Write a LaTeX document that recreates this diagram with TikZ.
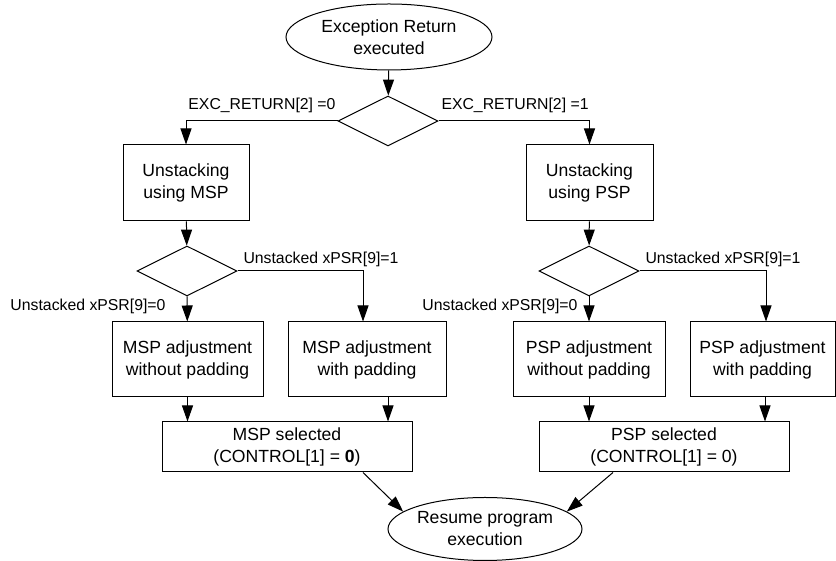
\documentclass[tikz,border=0pt]{standalone}
\usepackage{fontspec}
\setmainfont{Liberation Sans}
\usetikzlibrary{shapes.geometric,arrows.meta}
\begin{document}
\begin{tikzpicture}[x=0.5pt,y=0.5pt,line width=0.5pt,
    box/.style={draw, rectangle, inner sep=0pt, align=center, font=\fontsize{8.8pt}{11pt}\selectfont},
    oval/.style={draw, ellipse, inner sep=0pt, align=center, font=\fontsize{8.8pt}{11pt}\selectfont},
    decide/.style={draw, diamond, inner sep=0pt, minimum width=50pt, minimum height=25pt},
    lbl/.style={inner sep=0pt, font=\fontsize{7.9pt}{9.5pt}\selectfont},
    arr/.style={-{Triangle[width=5.5pt,length=8pt]}}]
\useasboundingbox (0,0) rectangle (836,561);
\node[oval, minimum width=103pt, minimum height=33pt] (start) at (389,524) {Exception Return\\executed};
\node[decide] (d1) at (388,440) {};
\node[box, minimum width=63pt, minimum height=38pt] (mspU) at (186,378) {Unstacking\\using MSP};
\node[box, minimum width=63.5pt, minimum height=38pt] (pspU) at (589.5,378) {Unstacking\\using PSP};
\node[decide] (d2m) at (187,290) {};
\node[decide] (d2p) at (589,290) {};
\foreach \n/\x/\w/\t in {mspA/187.5/75.5/{MSP adjustment\\without padding}, mspB/367/79/{MSP adjustment\\with padding},
    pspA/589/76/{PSP adjustment\\without padding}, pspB/762.5/72.5/{PSP adjustment\\with padding}}
    \node[box, minimum width=\w pt, minimum height=37.5pt] (\n) at (\x,201.5) {\t};
\node[box, minimum width=125pt, minimum height=25pt] (mspS) at (287,114) {MSP selected\\(CONTROL[1] = \textbf{0})};
\node[box, minimum width=125pt, minimum height=25pt] (pspS) at (664,114) {PSP selected\\(CONTROL[1] = 0)};
\node[oval, minimum width=97pt, minimum height=31.5pt] (resume) at (485,32) {Resume program\\execution};
\node[lbl, anchor=base east] (lexc0) at (336,451) {EXC\_RETURN[2] =0};
\node[lbl, anchor=base west] (lexc1) at (441,451) {EXC\_RETURN[2] =1};
\node[lbl, anchor=base west] (lmsp1) at (243,297) {Unstacked xPSR[9]=1};
\node[lbl, anchor=base west] (lpsp1) at (645,297) {Unstacked xPSR[9]=1};
\node[lbl, anchor=base east] (lmsp0) at (166,250) {Unstacked xPSR[9]=0};
\node[lbl, anchor=base east] (lpsp0) at (578,250) {Unstacked xPSR[9]=0};
\draw[arr] (start) -- (d1);
\draw[arr] (d1.west) -| (mspU.north);
\draw[arr] (d1.east) -| (pspU.north);
\draw[arr] (mspU) -- (d2m);
\draw[arr] (pspU) -- (d2p);
\draw[arr] (d2m) -- (mspA);
\draw[arr] (d2m.east) -| ([xshift=-2pt]mspB.north);
\draw[arr] (d2p) -- (pspA);
\draw[arr] (d2p.east) -| ([xshift=1.75pt]pspB.north);
\draw[arr] (mspA.south) -- (mspA.south |- mspS.north);
\draw[arr] ([xshift=10.5pt]mspB.south) -- ([xshift=10.5pt]mspB.south |- mspS.north);
\draw[arr] (pspA.south) -- (pspA.south |- pspS.north);
\draw[arr] ([xshift=1.25pt]pspB.south) -- ([xshift=1.25pt]pspB.south |- pspS.north);
\draw[arr] ([xshift=38pt]mspS.south) -- (resume.168);
\draw[arr] ([xshift=-25.5pt]pspS.south) -- (resume.12);
\end{tikzpicture}
\end{document}
